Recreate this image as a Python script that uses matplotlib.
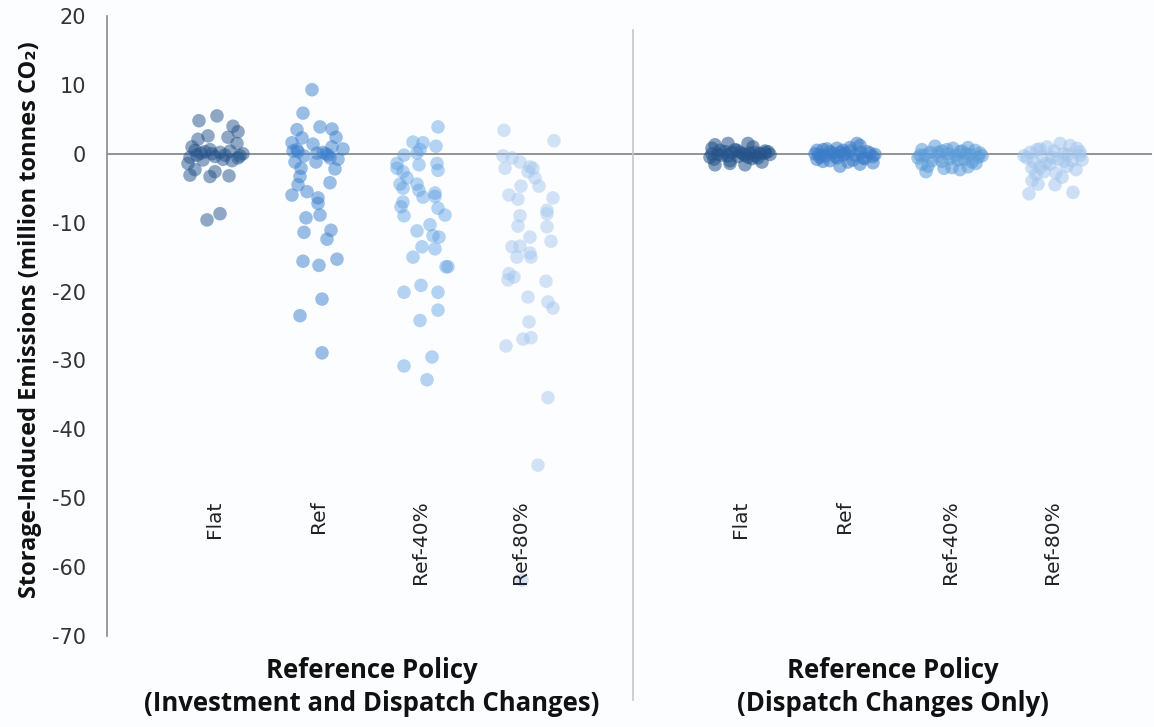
import matplotlib
matplotlib.use("Agg")
import matplotlib.pyplot as plt
from matplotlib.lines import Line2D

# ---------------- data ----------------
categories = ["Flat", "Ref", "Ref-40%", "Ref-80%"]
group_titles = ["Reference Policy\n(Investment and Dispatch Changes)",
                "Reference Policy\n(Dispatch Changes Only)"]
y_ticks = [20, 10, 0, -10, -20, -30, -40, -50, -60, -70]

# Investment and dispatch changes
inv_flat = [4.8, 5.5, 4.0, 3.2, 2.6, 2.4, 2.1, 1.0, 1.5, 0.5, 0.3, 0.0, 0.2, -0.2, 0.4, -0.3, 0.0,
            -0.5, -0.4, 0.1, -0.8, -1.4, -0.6, -0.9, -3.1, -2.3, -3.3, -2.6, -3.2, -9.6, -8.7, -1.0,
            0.6, -0.2]
inv_flat_jit = [-16, 2, 18, 23, -7, 13, -17, -23, 22, -20, -10, -3, 5, 10, 15, 25, 28,
                -25, 0, -14, 8, -27, 23, -12, -25, -20, -5, 0, 14, -8, 5, 17,
                -5, -18]

inv_ref = [9.3, 5.9, 3.9, 3.6, 3.5, 2.4, 2.3, 1.6, 1.4, 1.0, 0.7, 0.6, 0.1, -0.6, -1.2, -1.2, -2.2,
           -2.1, -3.3, -4.2, -4.5, -6.0, -5.5, -6.4, -7.2, -8.9, -9.3, -11.4, -11.1, -12.4, -15.6,
           -16.2, -15.3, -21.1, -23.5, -28.9, 0.3, -0.3, 0.2, -0.2, 0.4, -0.8, 0.0]
inv_ref_jit = [-6, -15, 2, 14, -21, 18, -16, -26, -5, 14, 25, -21, -1, 12, -23, -2, 17,
               -17, -18, 12, -20, -26, -11, 0, 0, 2, -12, -14, 13, 9, -15,
               1, 19, 4, -18, 4, -20, -14, 5, 10, -25, 20, 8]

inv_ref40 = [3.9, 1.7, 1.6, 1.1, 0.6, -0.2, 0.1, -1.4, -1.6, -1.4, -2.1, -2.4, -2.6, -3.5, -4.4,
             -4.4, -5.0, -5.3, -6.3, -5.7, -6.2, -7.0, -7.7, -7.9, -9.0, -8.9, -10.3, -11.2, -11.9,
             -12.1, -13.5, -13.8, -15.0, -16.4, -16.4, -20.1, -19.1, -20.1, -22.7, -24.2, -29.5,
             -30.8, -32.8]
inv_ref40_jit = [18, -7, 3, 16, 0, -16, -3, -23, -1, 17, -23, 18, -17, -13, -20,
                 -3, -17, -1, 3, 15, 15, -17, -19, 18, -16, 25, 10, -3, 13,
                 19, 2, 15, -7, 26, 28, -16, 1, 18, 18, 0, 12,
                 -16, 7]

inv_ref80 = [3.4, 1.9, -0.3, -0.6, -1.2, -1.9, -2.1, -2.1, -2.6, -3.5, -4.7, -4.7, -6.0, -6.6,
             -6.4, -8.2, -8.7, -9.0, -10.5, -10.6, -12.1, -12.7, -13.5, -13.4, -14.4, -15.0, -15.0,
             -17.4, -17.9, -18.3, -18.5, -20.8, -21.5, -22.4, -24.4, -26.9, -26.7, -27.9, -35.4,
             -45.2, -61.9]
inv_ref80_jit = [-16, 34, -17, -8, 0, 10, 13, -15, 8, 15, 19, 1, -11, -2,
                 33, 27, 27, 0, -2, 27, 10, 31, -8, 0, 10, -3, 11,
                 -11, -6, -12, 26, 8, 28, 33, 9, 3, 11, -14, 28,
                 18, 2]

# Dispatch changes only
dis_flat = [1.3, 1.5, 1.5, 1.0, 0.8, 0.5, 0.3, 0.6, 0.2, -0.2, 0.1, -0.3, 0.0, 0.4, -0.5, -0.1,
            0.2, -0.4, 0.0, -0.6, 0.3, -0.2, -0.8, -1.0, -1.6, -1.4, -1.6, -1.2, -0.7, 0.5, -0.3,
            0.1, -0.1, 0.0, -0.5, 0.2]
dis_flat_jit = [-25, -12, 8, 13, -28, -20, -15, -5, 0, 5, 10, 15, 20, 25, -30, -22,
                -8, -2, 3, 18, 28, -18, -26, -10, -25, -10, 5, 22, 12, -3, -12,
                25, 30, -28, 8, 15]

dis_ref = [1.5, 1.2, 0.8, 0.6, 0.5, 0.3, 0.4, 0.2, 0.0, 0.1, -0.1, -0.3, -0.2, 0.0, -0.5, -0.6,
           -0.4, -0.8, -1.0, -1.2, -1.5, -1.3, -1.8, -0.7, 0.7, 0.3, -0.2, 0.1, -0.9, -0.4, 0.9,
           -1.1, -0.6, 0.2, -0.1, 0.5]
dis_ref_jit = [12, 15, -8, -22, -28, -15, 5, -5, -30, 25, 30, -20, 10, 0, -25, 18,
               -10, -28, -15, 3, 15, 28, -5, 20, -18, 22, -2, -12, 8, 28, 5,
               -22, -8, 16, -26, -2]

dis_ref40 = [1.1, 0.9, 0.8, 0.6, 0.5, 0.4, 0.3, 0.2, 0.1, 0.0, -0.1, -0.2, -0.3, -0.4, -0.5, -0.6,
             -0.8, -1.0, -1.2, -1.5, -1.8, -2.1, -2.6, -2.3, -1.9, -0.7, 0.2, 0.0, -0.3, 0.6, -1.1,
             -0.9, -0.2, 0.4, -1.4, -2.0]
dis_ref40_jit = [-15, 18, 3, -28, 25, -8, 10, -20, 30, -2, 20, -25, 6, -12, 28, -32,
                 14, -18, 22, -28, -22, -6, -24, 10, 18, 0, -12, 16, 32, -3, -8,
                 8, -30, 12, 26, 2]

dis_ref80 = [1.5, 1.2, 1.0, 0.8, 0.6, 0.4, 0.2, 0.0, -0.2, -0.4, -0.6, -0.8, -1.0, -1.2, -1.5,
             -1.8, -2.0, -2.3, -2.6, -3.0, -3.4, -3.9, -4.4, -4.5, -5.6, -5.8, -0.3, -0.9, -1.4,
             0.3, -2.8, -0.1, 0.7, -1.1, -2.1, -0.5]
dis_ref80_jit = [8, 18, -5, 25, -15, 2, -22, 12, 28, -10, -25, 6, 20, -18, -2,
                 15, -12, 24, -8, -16, 10, -20, -14, 3, 21, -23, -28, 30, -6,
                 28, 4, 16, -12, 12, -20, 0]

# ---------------- styling / layout ----------------
W, H = 1154, 727
fig = plt.figure(figsize=(W / 100, H / 100), dpi=100, facecolor="#fbfdff")
ax = fig.add_axes([107 / W, 1 - 636 / H, (1152 - 107) / W, (636 - 16) / H])
ax.set_facecolor("#fbfdff")

centers = [108, 211, 313, 413, 633, 738, 843, 945]   # horizontal slots (px from axis)
colors = ["#24538a", "#3a7fcc", "#5e9fe0", "#9fc3ec",
          "#24538a", "#3a7cc8", "#5b9bd8", "#9fc3ec"]
alphas = [0.5, 0.5, 0.45, 0.45, 0.55, 0.55, 0.55, 0.5]

series = [(inv_flat, inv_flat_jit), (inv_ref, inv_ref_jit), (inv_ref40, inv_ref40_jit),
          (inv_ref80, inv_ref80_jit), (dis_flat, dis_flat_jit), (dis_ref, dis_ref_jit),
          (dis_ref40, dis_ref40_jit), (dis_ref80, dis_ref80_jit)]

ax.axhline(0, color="#8a8a8a", lw=1.3, zorder=1)

for i, ((vals, jit), c, a) in enumerate(zip(series, colors, alphas)):
    n = min(len(vals), len(jit))
    xs = [centers[i] + jit[k] for k in range(n)]
    ax.scatter(xs, vals[:n], s=95, color=c, alpha=a, edgecolors="none", zorder=2)

ax.set_xlim(0, 1045)
ax.set_ylim(-70, 20)
ax.set_yticks(y_ticks)
ax.set_yticklabels([str(v) for v in y_ticks], fontsize=15, color="#333333",
                   family="DejaVu Sans")
ax.tick_params(axis="y", length=0, pad=15)
ax.set_xticks([])
for s in ["top", "right", "bottom"]:
    ax.spines[s].set_visible(False)
ax.spines["left"].set_color("#8a8a8a")
ax.spines["left"].set_linewidth(1.2)

# category labels (rotated, inside the plot)
for i, cx in enumerate(centers):
    ax.text(cx, -50.3, categories[i % 4], rotation=90, ha="center", va="top",
            fontsize=14.5, color="#222222", family="DejaVu Sans", zorder=3)

# divider
fig.add_artist(Line2D([633 / W, 633 / W], [1 - 30 / H, 1 - 700 / H],
                      transform=fig.transFigure, color="#c8c8c8", lw=1.2))

# y label
fig.text(30 / W, 1 - 320 / H, "Storage-Induced Emissions (million tonnes CO\u2082)",
         rotation=90, ha="center", va="center", fontsize=17, fontweight="bold",
         family=["Open Sans", "DejaVu Sans"], color="#111111")

# group titles
for gx, t in zip([372, 893], group_titles):
    fig.text(gx / W, 1 - 687 / H, t, ha="center", va="center", fontsize=18.5,
             fontweight="bold", family=["Open Sans", "DejaVu Sans"], color="#111111",
             linespacing=1.25)

fig.savefig("out.png", dpi=100, facecolor=fig.get_facecolor())
